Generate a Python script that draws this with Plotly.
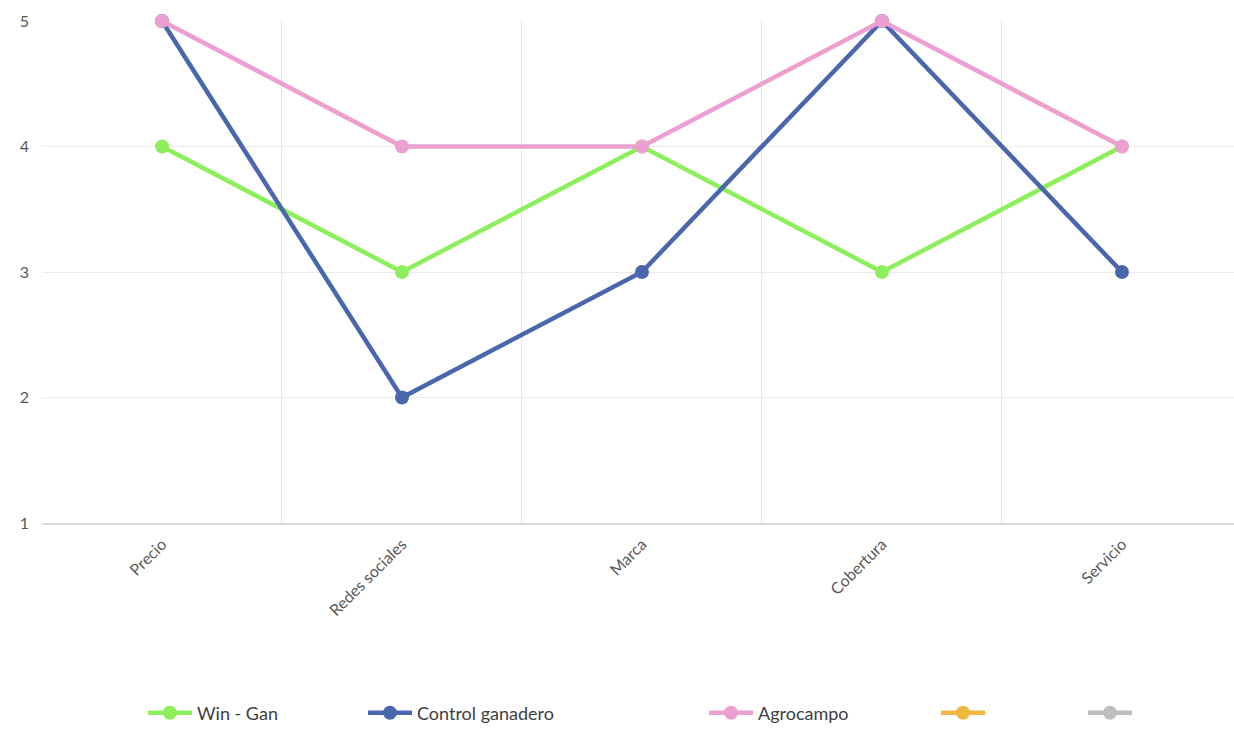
import plotly.graph_objects as go

categories = ["Precio", "Redes sociales", "Marca", "Cobertura", "Servicio"]
win_gan = [4, 3, 4, 3, 4]
control_ganadero = [5, 2, 3, 5, 3]
agrocampo = [5, 4, 4, 5, 4]
y_ticks = [1, 2, 3, 4, 5]

series = [
    ("Win - Gan", win_gan, "#8EEF5C", "legend"),
    ("Control ganadero", control_ganadero, "#4A67AE", "legend2"),
    ("Agrocampo", agrocampo, "#EBA0CF", "legend3"),
    ("", None, "#F2B73F", "legend4"),
    (" ", None, "#BEBEBE", "legend5"),
]

fig = go.Figure()
for name, vals, color, lg in series:
    fig.add_trace(go.Scatter(
        x=categories if vals is not None else [None],
        y=vals if vals is not None else [None],
        name=name, mode="lines+markers",
        line=dict(color=color, width=4.5),
        marker=dict(color=color, size=14),
        cliponaxis=False, legend=lg, showlegend=True,
    ))

W, H = 1234, 755
legend_x = [143, 363, 704, 936, 1083]
legend_names = ["legend", "legend2", "legend3", "legend4", "legend5"]
legend_font = dict(family="Lato, Open Sans, sans-serif", size=18, color="#404040")
layout_legends = {}
for lname, lx in zip(legend_names, legend_x):
    layout_legends[lname] = dict(
        x=lx / W, y=1 - 713 / H, xref="container", yref="container",
        xanchor="left", yanchor="middle", orientation="h",
        font=legend_font, bgcolor="rgba(0,0,0,0)", itemwidth=44,
    )

fig.update_layout(
    width=W, height=H,
    margin=dict(l=42, r=0, t=21, b=232),
    plot_bgcolor="white", paper_bgcolor="white",
    font=dict(family="Lato, Open Sans, sans-serif", color="#595959"),
    xaxis=dict(
        type="category", tickson="boundaries", range=[-0.5, 4.467],
        showgrid=True, gridcolor="#E6E6E6", gridwidth=1,
        showline=True, linecolor="#D9D9D9", linewidth=1.5,
        tickangle=-45, tickfont=dict(size=16, color="#595959"),
        ticks="", zeroline=False, ticklabelstandoff=4,
    ),
    yaxis=dict(
        range=[1, 5], tickvals=y_ticks, showgrid=True, gridcolor="#EBEBEB",
        gridwidth=1, zeroline=False, showline=False,
        tickfont=dict(size=16, color="#595959"), ticks="", ticklabelstandoff=12,
    ),
    **layout_legends,
)

fig.write_html("out.html")
